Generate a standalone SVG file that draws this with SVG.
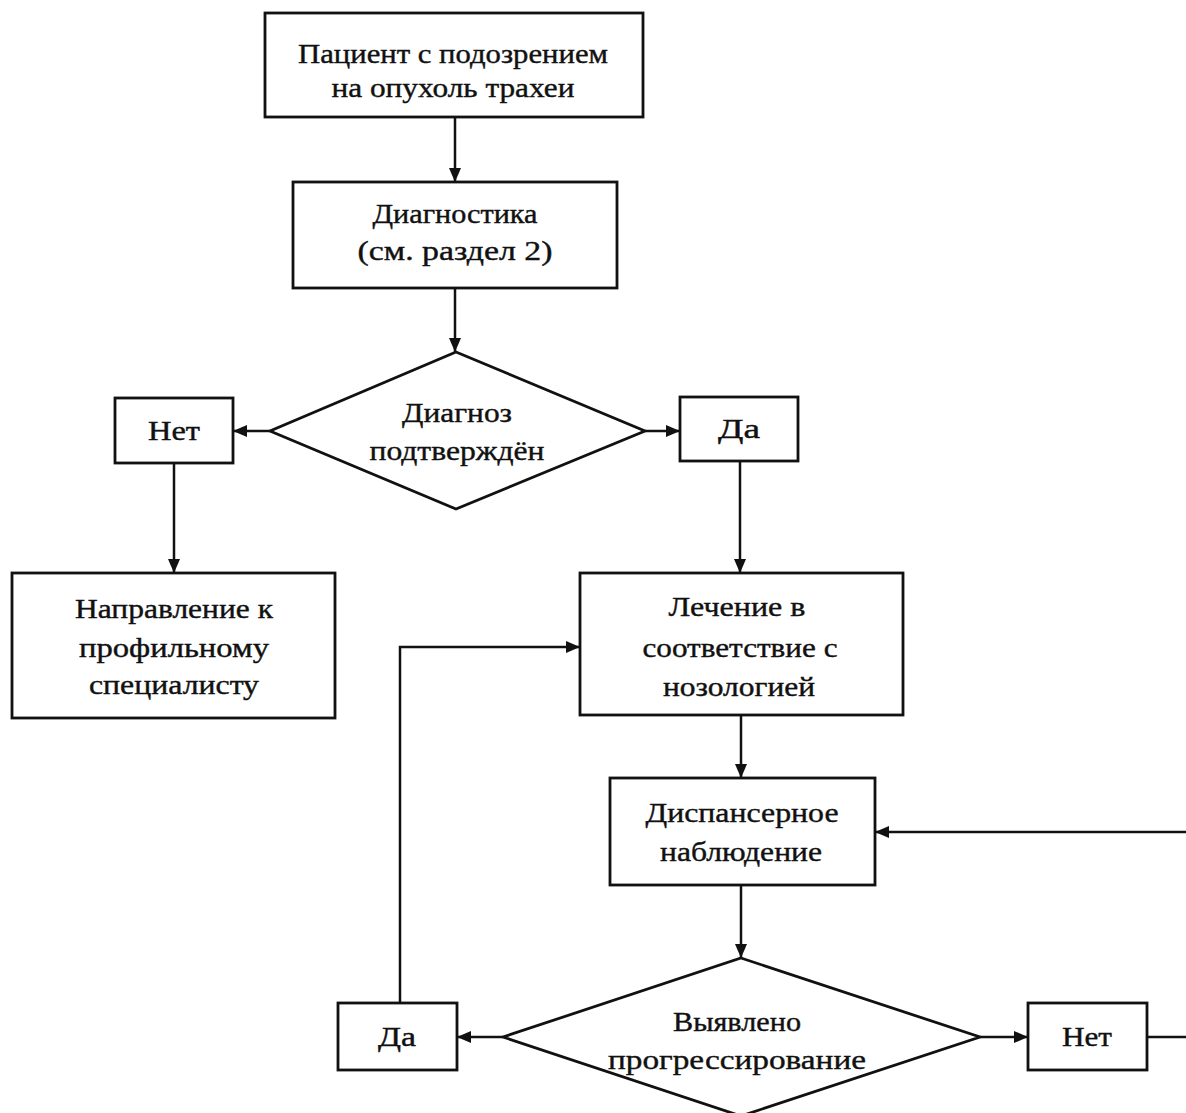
<svg xmlns="http://www.w3.org/2000/svg" width="1186" height="1113" viewBox="0 0 1186 1113">
<style>
.box{fill:#fff;stroke:#111;stroke-width:2.8}
.con{fill:none;stroke:#111;stroke-width:2.5}
text{font-family:"Liberation Serif","Times New Roman",serif;font-size:28px;fill:#111;stroke:#111;stroke-width:0.4;text-anchor:middle}
</style>
<defs>
<marker id="ah" viewBox="0 0 14 12" refX="14" refY="6" markerWidth="14" markerHeight="12" markerUnits="userSpaceOnUse" orient="auto">
<path d="M0,0 L14,6 L0,12 z" fill="#111"/>
</marker>
</defs>
<rect width="1186" height="1113" fill="#fff"/>
<g id="connectors">
<path class="con" d="M455,117 V182" marker-end="url(#ah)"/>
<path class="con" d="M455,288 V352" marker-end="url(#ah)"/>
<path class="con" d="M270,431 H233" marker-end="url(#ah)"/>
<path class="con" d="M645,431 H680" marker-end="url(#ah)"/>
<path class="con" d="M174,463 V573" marker-end="url(#ah)"/>
<path class="con" d="M740,461 V573" marker-end="url(#ah)"/>
<path class="con" d="M400,1003 V647 H580" marker-end="url(#ah)"/>
<path class="con" d="M741,715 V778" marker-end="url(#ah)"/>
<path class="con" d="M1147,1037 H1200 V832 H875" marker-end="url(#ah)"/>
<path class="con" d="M741,885 V958" marker-end="url(#ah)"/>
<path class="con" d="M503,1037 H457" marker-end="url(#ah)"/>
<path class="con" d="M980,1037 H1028" marker-end="url(#ah)"/>
</g>
<g id="n-patient">
<rect class="box" x="265" y="13" width="378" height="104"/>
<text x="453" y="63" textLength="310" lengthAdjust="spacingAndGlyphs">Пациент с подозрением</text>
<text x="453" y="97" textLength="243" lengthAdjust="spacingAndGlyphs">на опухоль трахеи</text>
</g>
<g id="n-diag">
<rect class="box" x="293" y="182" width="324" height="106"/>
<text x="455" y="223" textLength="165" lengthAdjust="spacingAndGlyphs">Диагностика</text>
<text x="455" y="260" textLength="195" lengthAdjust="spacingAndGlyphs">(см. раздел 2)</text>
</g>
<g id="n-confirmed">
<polygon class="box" points="456,352 645,431 456,509 270,431"/>
<text x="457" y="422" textLength="110" lengthAdjust="spacingAndGlyphs">Диагноз</text>
<text x="457" y="460" textLength="175" lengthAdjust="spacingAndGlyphs">подтверждён</text>
</g>
<g id="n-no1">
<rect class="box" x="115" y="398" width="118" height="65"/>
<text x="174" y="440" textLength="52" lengthAdjust="spacingAndGlyphs">Нет</text>
</g>
<g id="n-yes1">
<rect class="box" x="680" y="397" width="118" height="64"/>
<text x="739" y="438" textLength="42" lengthAdjust="spacingAndGlyphs">Да</text>
</g>
<g id="n-referral">
<rect class="box" x="12" y="573" width="323" height="145"/>
<text x="174" y="618" textLength="198" lengthAdjust="spacingAndGlyphs">Направление к</text>
<text x="174" y="657" textLength="190" lengthAdjust="spacingAndGlyphs">профильному</text>
<text x="174" y="694" textLength="170" lengthAdjust="spacingAndGlyphs">специалисту</text>
</g>
<g id="n-treatment">
<rect class="box" x="580" y="573" width="323" height="142"/>
<text x="737" y="616" textLength="137" lengthAdjust="spacingAndGlyphs">Лечение в</text>
<text x="740" y="657" textLength="195" lengthAdjust="spacingAndGlyphs">соответствие с</text>
<text x="739" y="696" textLength="152" lengthAdjust="spacingAndGlyphs">нозологией</text>
</g>
<g id="n-followup">
<rect class="box" x="610" y="778" width="265" height="107"/>
<text x="742" y="822" textLength="193" lengthAdjust="spacingAndGlyphs">Диспансерное</text>
<text x="741" y="861" textLength="162" lengthAdjust="spacingAndGlyphs">наблюдение</text>
</g>
<g id="n-progress">
<polygon class="box" points="741,958 980,1037 741,1116 503,1037"/>
<text x="737" y="1031" textLength="128" lengthAdjust="spacingAndGlyphs">Выявлено</text>
<text x="737" y="1069" textLength="258" lengthAdjust="spacingAndGlyphs">прогрессирование</text>
</g>
<g id="n-yes2">
<rect class="box" x="338" y="1003" width="119" height="67"/>
<text x="397" y="1046" textLength="38" lengthAdjust="spacingAndGlyphs">Да</text>
</g>
<g id="n-no2">
<rect class="box" x="1028" y="1003" width="119" height="67"/>
<text x="1087" y="1046" textLength="50" lengthAdjust="spacingAndGlyphs">Нет</text>
</g>
</svg>
